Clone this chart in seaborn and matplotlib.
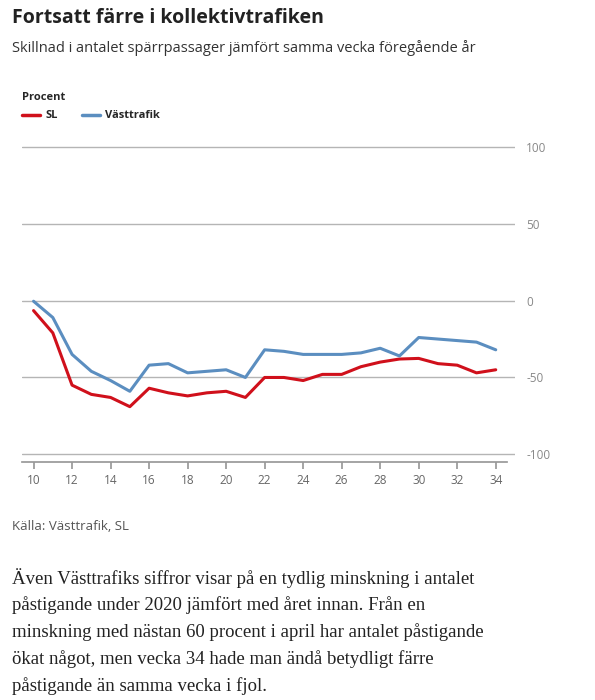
import matplotlib
matplotlib.use("Agg")
import matplotlib.pyplot as plt
import seaborn as sns
import pandas as pd

weeks = list(range(10, 35))
sl = [-6.5, -21, -55, -61, -63, -69, -57, -60, -62, -60, -59, -63, -50, -50, -52, -48, -48, -43, -40, -38, -37.6, -41, -42, -47, -45]
vasttrafik = [-0.4, -11, -35, -46, -52, -59, -42, -41, -47, -46, -45, -50, -32, -33, -35, -35, -35, -34, -31, -36, -24, -25, -26, -27, -32]
yticks = [100, 50, 0, -50, -100]
xticks = list(range(10, 35, 2))

sns.set_theme(style="white")
plt.rcParams['font.family'] = ['Open Sans', 'DejaVu Sans']

df = pd.DataFrame({"vecka": weeks * 2, "v": sl + vasttrafik,
                   "serie": ["SL"] * len(weeks) + ["Västtrafik"] * len(weeks)})

fig = plt.figure(figsize=(5.95, 7.0), dpi=100)
ax = fig.add_axes([22/595, 1-462/700, (515-22)/595, (462-140)/700])
for y in yticks:
    ax.axhline(y, color="#b5b5b5", lw=1, zorder=0)
sns.lineplot(data=df, x="vecka", y="v", hue="serie", palette={"SL": "#d0101b", "Västtrafik": "#5b8ec0"},
             lw=2.2, ax=ax, legend=False)
ax.set_xlim(9.4, 35.0)
ax.set_ylim(-105, 104.5)
ax.yaxis.tick_right()
ax.set_yticks(yticks)
ax.set_yticklabels([str(y) for y in yticks], fontsize=8.5, color="#888888")
ax.tick_params(axis="y", length=0, pad=8)
ax.set_xticks(xticks)
ax.set_xticklabels([str(x) for x in xticks], fontsize=8.5, color="#666666")
ax.tick_params(axis="x", length=5, color="#999999", direction="out", bottom=True)
ax.set_xlabel(""); ax.set_ylabel("")
for s in ["top", "right", "left"]:
    ax.spines[s].set_visible(False)
ax.spines["bottom"].set_color("#999999")
ax.spines["bottom"].set_bounds(9.4, 34.6)

fig.text(12/595, 1-18/700, "Fortsatt färre i kollektivtrafiken", fontsize=14, weight="bold", va="center", color="#222222")
fig.text(12/595, 1-48/700, "Skillnad i antalet spärrpassager jämfört samma vecka föregående år", fontsize=10.5, va="center", color="#333333")
fig.text(22/595, 1-97/700, "Procent", fontsize=8, weight="bold", va="center")
fig.add_artist(plt.Line2D([22/595, 40/595], [1-115/700]*2, color="#d0101b", lw=2.5))
fig.text(45/595, 1-115/700, "SL", fontsize=8, weight="bold", va="center")
fig.add_artist(plt.Line2D([82/595, 100/595], [1-115/700]*2, color="#5b8ec0", lw=2.5))
fig.text(105/595, 1-115/700, "Västtrafik", fontsize=8, weight="bold", va="center")
fig.text(12/595, 1-526/700, "Källa: Västtrafik, SL", fontsize=9.5, va="center", color="#555555")
para = ["Även Västtrafiks siffror visar på en tydlig minskning i antalet",
        "påstigande under 2020 jämfört med året innan. Från en",
        "minskning med nästan 60 procent i april har antalet påstigande",
        "ökat något, men vecka 34 hade man ändå betydligt färre",
        "påstigande än samma vecka i fjol."]
for i, line in enumerate(para):
    fig.text(12/595, 1-(578 + i*27)/700, line, fontsize=13.5, va="center", family=["Liberation Serif", "DejaVu Serif"], color="#222222")
fig.savefig("out.png", dpi=100)
